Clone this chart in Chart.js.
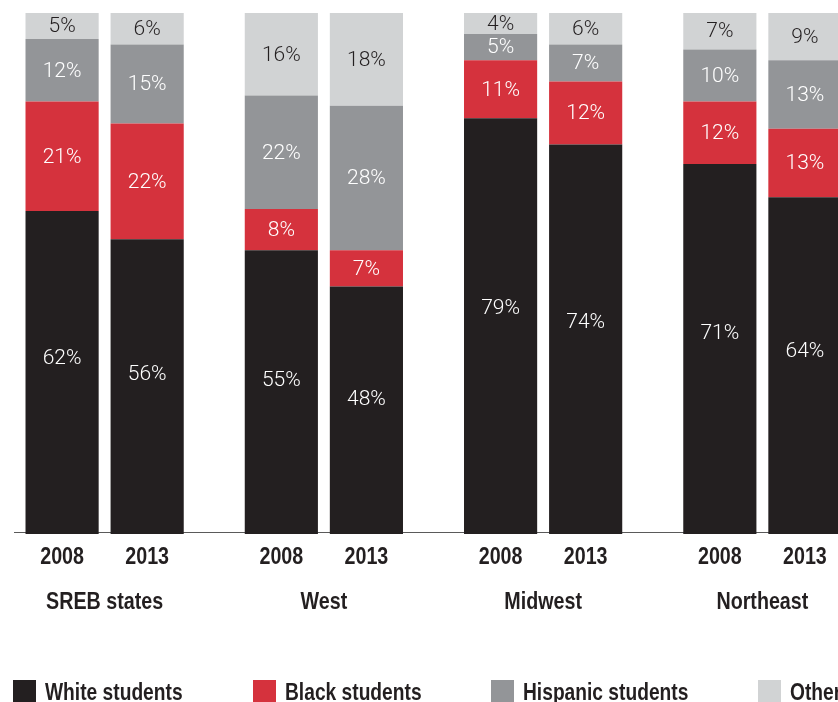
<!DOCTYPE html>
<html>
<head>
<meta charset="utf-8">
<script src="https://cdn.jsdelivr.net/npm/chart.js@4.4.1/dist/chart.umd.min.js"></script>
<style>
html, body { margin:0; padding:0; background:#fff; overflow:hidden; width:838px; height:702px; }
#wrap { position:absolute; left:-5px; top:0; }
#legend { position:absolute; left:13px; top:680px; display:flex; white-space:nowrap;
  font:bold 24px "Liberation Sans", Arial, sans-serif; line-height:23px; color:#231f20; }
.item { display:flex; align-items:flex-start; margin-right:70px; }
.box { width:23px; height:23px; margin-right:9px; flex:none; }
.txt { display:inline-block; transform:scaleX(0.8); transform-origin:0 0; }
</style>
</head>
<body>
<div id="wrap"><canvas id="myChart" width="877" height="702"></canvas></div>
<div id="legend"></div>
<script>
// categories
var regions = ['SREB states', 'West', 'Midwest', 'Northeast']
var years = ['2008', '2013']
var series = ['White students', 'Black students', 'Hispanic students', 'Other']
var colors = ['#231f20', '#d5323d', '#939598', '#d1d3d4']

// percent of students, as labelled in the picture
var white2008 = [62, 55, 79, 71]
var white2013 = [56, 48, 74, 64]
var black2008 = [21, 8, 11, 12]
var black2013 = [22, 7, 12, 13]
var hispanic2008 = [12, 22, 5, 10]
var hispanic2013 = [15, 28, 7, 13]
var other2008 = [5, 16, 4, 7]
var other2013 = [6, 18, 6, 9]

var table = [[white2008, white2013], [black2008, black2013], [hispanic2008, hispanic2013], [other2008, other2013]]

// rounded labels don't always add to 100, bars in the picture all do
var totals = years.map(function(y, k) {
  return regions.map(function(r, i) {
    return table.reduce(function(sum, s) { return sum + s[k][i] }, 0)
  })
})

var datasets = []
series.forEach(function(name, s) {
  years.forEach(function(yr, k) {
    datasets.push({
      label: name,
      stack: yr,
      series: s,
      year: yr,
      raw: table[s][k],
      data: table[s][k].map(function(v, i) { return v / totals[k][i] * 100 }),
      backgroundColor: colors[s],
      borderWidth: 0,
      barPercentage: 0.86,
      categoryPercentage: 0.776
    })
  })
})

var narrow = 0.82
var legendNarrow = 0.8
var labelFont = 'bold 24px "Liberation Sans", Arial, sans-serif'

// condensed text: no narrow font installed, so squeeze a normal one
function narrowText(c, text, x, y) {
  c.save()
  c.translate(x, y)
  c.scale(narrow, 1)
  c.fillText(text, 0, 0)
  c.restore()
}

var barLabels = {
  id: 'barLabels',
  beforeDatasetsDraw: function(chart) {
    var c = chart.ctx, a = chart.chartArea
    c.save()
    c.strokeStyle = '#5a5a5a'
    c.lineWidth = 1
    c.beginPath()
    c.moveTo(19, a.bottom - 1.5)
    c.lineTo(a.right, a.bottom - 1.5)
    c.stroke()
    c.restore()
  },
  afterDatasetsDraw: function(chart) {
    var c = chart.ctx
    c.save()
    c.textAlign = 'center'
    c.textBaseline = 'middle'
    chart.data.datasets.forEach(function(ds, d) {
      var meta = chart.getDatasetMeta(d)
      meta.data.forEach(function(bar, i) {
        var top = Math.min(bar.y, bar.base), bot = Math.max(bar.y, bar.base)
        var ty = ds.series == 0 ? top + (bot - top) * 0.455 : (top + bot) / 2
        c.font = '300 21px Roboto, "Liberation Sans", sans-serif'
        c.fillStyle = ds.series == 3 ? '#231f20' : '#ffffff'
        c.fillText(ds.raw[i] + '%', bar.x, ty + 1)
        if (ds.series == 0) {
          c.font = labelFont
          c.fillStyle = '#231f20'
          narrowText(c, ds.year, bar.x, 557)
        }
      })
    })
    // region names under each pair, from the category scale
    var xs = chart.scales.x
    c.font = labelFont
    c.fillStyle = '#231f20'
    regions.forEach(function(r, i) {
      narrowText(c, r, xs.getPixelForValue(i), 602)
    })
    c.restore()
  }
}

var ctx = document.getElementById('myChart').getContext('2d')
var chart = new Chart(ctx, {
  type: 'bar',
  data: { labels: regions, datasets: datasets },
  options: {
    responsive: false,
    animation: false,
    layout: { padding: { top: 13, left: 0, right: 0, bottom: 0 } },
    plugins: { legend: { display: false }, tooltip: { enabled: false } },
    scales: {
      x: {
        stacked: true,
        grid: { display: false },
        border: { display: false },
        ticks: { display: false },
        afterFit: function(scale) { scale.height = 702 - 534 }
      },
      y: { stacked: true, display: false, min: 0, max: 100 }
    }
  },
  plugins: [barLabels]
})

// legend
var legend = document.getElementById('legend')
series.forEach(function(name, s) {
  var item = document.createElement('div')
  item.className = 'item'
  var box = document.createElement('div')
  box.className = 'box'
  box.style.background = colors[s]
  var txt = document.createElement('span')
  txt.className = 'txt'
  txt.textContent = name
  item.appendChild(box)
  item.appendChild(txt)
  legend.appendChild(item)
  txt.style.marginRight = -(txt.offsetWidth * (1 - legendNarrow)) + 'px'
})
</script>
</body>
</html>
